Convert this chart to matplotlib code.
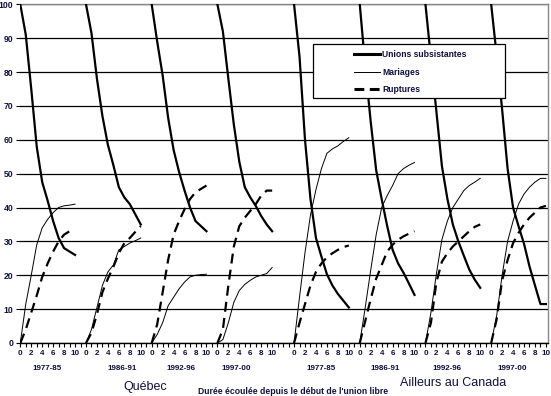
import numpy as np
import matplotlib.pyplot as plt
from matplotlib.patches import Rectangle
from matplotlib.lines import Line2D

# Durée écoulée (années) et périodes
duree = list(range(0, 11))
periodes = ["1977-85", "1986-91", "1992-96", "1997-00",
            "1977-85", "1986-91", "1992-96", "1997-00"]

# Québec (4 périodes) puis Ailleurs au Canada (4 périodes)
unions_subsistantes = [
    [100, 91, 75, 58, 47.5, 42, 36, 31, 28, 27, 26],
    [100, 91.5, 78, 67, 58.5, 52.5, 46, 43, 41, 38, 35],
    [100, 89, 79, 66.5, 57, 50.5, 45, 40, 36, 34.5, 33],
    [100, 92, 78, 64.5, 53.5, 46, 43, 40.5, 37.5, 35, 33],
    [100, 84.5, 60, 42.5, 31, 25.5, 20.3, 17, 14.5, 12.5, 10.5],
    [100, 81.7, 65.3, 51, 42.5, 34.6, 27.5, 23.5, 20.7, 17.5, 14.2],
    [100, 84, 68.3, 52.3, 42.6, 35, 30, 25.8, 21.7, 18.7, 16.3],
    [100, 85, 69, 51.5, 40, 34.5, 29.3, 22.6, 17, 11.5, 11.5],
]
mariages = [
    [0, 11.5, 20, 29, 34, 36.5, 38.5, 40, 40.5, 40.7, 41],
    [0, 4, 10.5, 17, 21, 23, 27.5, 28.5, 29.5, 30.2, 31],
    [0, 2.5, 6, 11, 13.5, 16, 18, 19.5, 20, 20.2, 20.3],
    [0, 1, 6, 12, 15.5, 17.3, 18.5, 19.5, 20, 20.5, 22.3],
    [0, 13.6, 26.7, 37.8, 45.3, 51.5, 56, 57.3, 58.2, 59.5, 60.6],
    [0, 10.5, 21.5, 32, 40, 43.5, 46.5, 50, 51.5, 52.5, 53.3],
    [0, 9, 20.5, 30.5, 36, 40, 42.5, 45, 46.5, 47.5, 48.6],
    [0, 8, 20, 30, 36, 41, 44, 46, 47.5, 48.6, 48.6],
]
ruptures = [
    [0, 4, 9, 14, 19.5, 23.5, 27, 30, 32, 33, 33.5],
    [0, 3, 8.5, 15, 19, 22.5, 26.5, 29.5, 31, 32.8, 34.5],
    [0, 5.5, 15, 24.5, 32, 36, 39.5, 42.5, 44.5, 45.5, 46.5],
    [0, 4, 17, 28.5, 34.5, 37, 39, 41, 43.5, 45, 45],
    [0, 6, 11.5, 17, 21, 23.5, 25.3, 26.5, 27.5, 28.3, 28.8],
    [0, 6.5, 13, 19, 23, 27, 29, 30.5, 31.5, 32.3, 33],
    [0, 6, 18, 24, 26.5, 28.5, 30, 31.5, 33, 34.3, 35],
    [0, 7, 18.5, 24.5, 29.5, 32.5, 35, 37, 38.5, 40, 40.5],
]

txt_col = '#101040'
plt.rcParams['font.family'] = ['Liberation Sans', 'DejaVu Sans']

# position of each group on the shared category axis (gap between regions)
offsets = [12 * i + (2 if i >= 4 else 0) for i in range(8)]

fig = plt.figure(figsize=(5.51, 3.96), dpi=100)
ax = fig.add_axes([20.3 / 551, 53 / 396, 527.7 / 551, 338.7 / 396])

dash = (4.5, 2.8)
for i, off in enumerate(offsets):
    x = off + np.array(duree)
    ax.plot(x, unions_subsistantes[i], color='black', lw=1.6, zorder=3)
    ax.plot(x, mariages[i], color='black', lw=0.7, zorder=3)
    ax.plot(x, ruptures[i], color='black', lw=1.6, dashes=dash, zorder=3)

ax.set_xlim(0, 96.38)
ax.set_ylim(0, 100)

# grid
ax.set_yticks(range(0, 101, 10))
ax.yaxis.grid(True, color='black', lw=0.9)
ax.set_axisbelow(True)
ax.tick_params(axis='y', length=3, width=0.8, pad=2, labelsize=6.2,
               labelcolor=txt_col)
for lab in ax.get_yticklabels():
    lab.set_fontweight('bold')

# x ticks at every category, labels 0..10 step 2 in each group
ax.set_xticks(range(0, 97))
ax.set_xticklabels([])
ax.tick_params(axis='x', length=3, width=0.8)
for off in offsets:
    for d in duree[::2]:
        ax.text(off + d, -2.2, str(d), ha='center', va='top', fontsize=5.8,
                fontweight='bold', color=txt_col)

for s in ['top', 'right']:
    ax.spines[s].set_color('#888888')
    ax.spines[s].set_linewidth(1)
ax.spines['left'].set_visible(False)
ax.spines['bottom'].set_linewidth(1)

# period labels
period_label_px = [47.5, 122.5, 181, 236.5, 321.3, 384.7, 446.7, 512.5]
for p, px in zip(periodes, period_label_px):
    fig.text(px / 551, 1 - 369 / 396, p, ha='center', va='center',
             fontsize=5.8, fontweight='bold', color=txt_col)

fig.text(145 / 551, 1 - 387 / 396, "Québec", ha='center', va='center',
         fontsize=9, color=txt_col)
fig.text(453 / 551, 1 - 382.5 / 396, "Ailleurs au Canada", ha='center',
         va='center', fontsize=9, color=txt_col)
fig.text(293 / 551, 1 - 391.5 / 396,
         "Durée écoulée depuis le début de l'union libre", ha='center',
         va='center', fontsize=6.2, fontweight='bold', color=txt_col)

# legend box
ax.add_patch(Rectangle((0.554, 0.7225), 0.3647, 0.1594, transform=ax.transAxes,
                       fc='white', ec='black', lw=0.9, zorder=5))
handles = [Line2D([], [], color='black', lw=2.2),
           Line2D([], [], color='black', lw=0.7),
           Line2D([], [], color='black', lw=2.2, dashes=(3.2, 1.8))]
labels = ["Unions subsistantes", "Mariages", "Ruptures"]
leg = ax.legend(handles, labels, loc='upper left',
                bbox_to_anchor=(0.6323, 0.865), frameon=False, borderpad=0,
                borderaxespad=0, handlelength=3.0, handletextpad=0.25,
                labelspacing=1.0, prop={'size': 6.2, 'weight': 'bold'},
                labelcolor=txt_col)
leg.set_zorder(6)

fig.savefig('out.png', dpi=100)
